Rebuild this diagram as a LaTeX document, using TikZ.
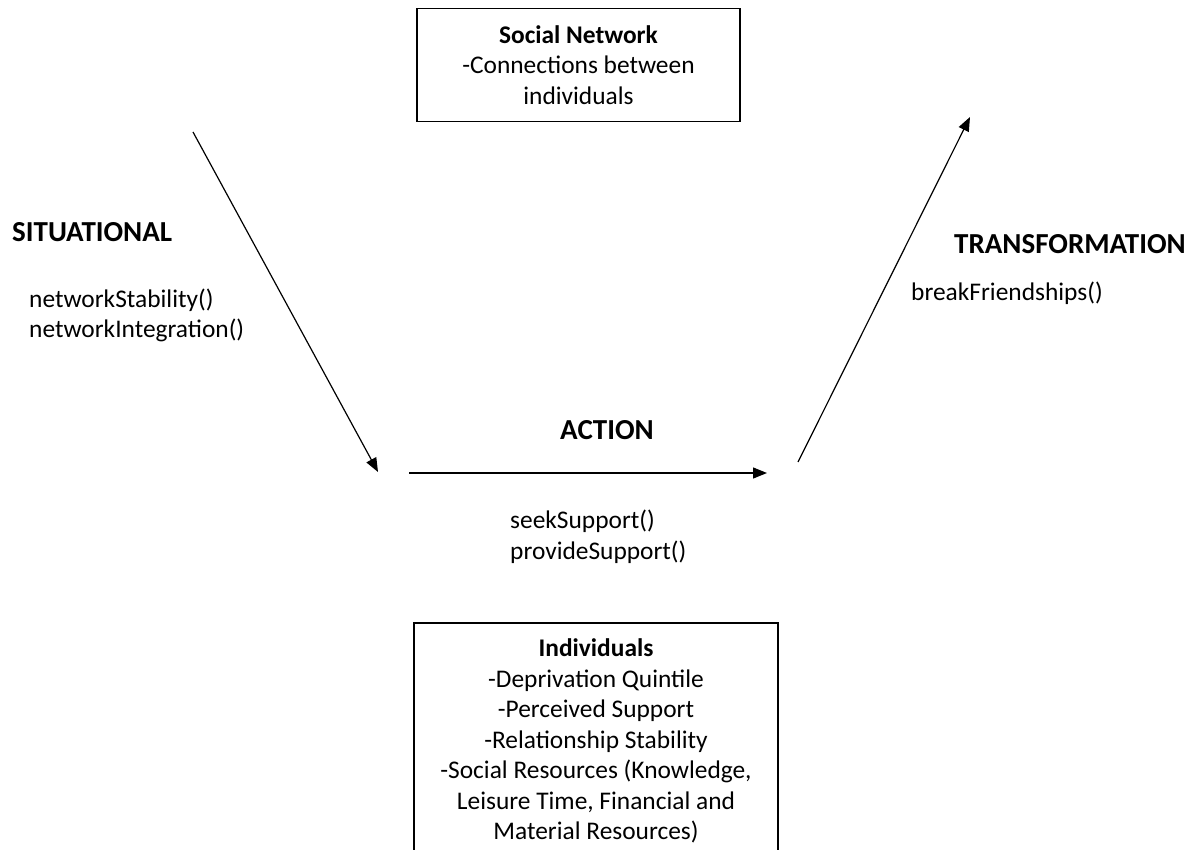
\documentclass[tikz,border=0pt]{standalone}
\usepackage{fontspec}
\setmainfont{Carlito}
\usetikzlibrary{arrows.meta}
\begin{document}
\begin{tikzpicture}[x=1pt,y=-1pt,
  reg/.style={font=\fontsize{25.4}{30.5}\selectfont, inner sep=0pt},
  lbl/.style={font=\fontsize{29}{35}\selectfont\bfseries, inner sep=0pt},
  boxnode/.style={draw, line width=1.2pt, align=center, inner sep=0pt, font=\fontsize{25.4}{30.5}\selectfont},
  conn/.style={line width=1.2pt, -{Triangle[length=14pt,width=11pt]}}
]
\useasboundingbox (0,0) rectangle (1198,850);
% boxes
\node[boxnode, minimum width=323pt, minimum height=113pt] (net) at (578.5,65)
  {\textbf{Social Network}\\-Connections between\\individuals};
\node[boxnode, minimum width=364pt, minimum height=236pt] (ind) at (596,741)
  {\textbf{Individuals}\\-Deprivation Quintile\\-Perceived Support\\-Relationship Stability\\-Social Resources (Knowledge,\\Leisure Time, Financial and\\Material Resources)};
% labels
\node[lbl, anchor=base west] (sit) at (12,242) {SITUATIONAL};
\node[reg, anchor=base west] (ns) at (29,307) {networkStability()};
\node[reg, anchor=base west] (ni) at (29,337) {networkIntegration()};
\node[lbl, anchor=base west] (tra) at (954,253) {TRANSFORMATION};
\node[reg, anchor=base west] (bf) at (911,300) {breakFriendships()};
\node[lbl, anchor=base] (act) at (607,439) {ACTION};
\node[reg, anchor=base west] (ss) at (510,528) {seekSupport()};
\node[reg, anchor=base west] (ps) at (510,559) {provideSupport()};
% arrows
\coordinate (s1) at (193,132);
\coordinate (s2) at (378,472);
\coordinate (a1) at (409,473);
\coordinate (a2) at (767,473);
\coordinate (t1) at (798,462);
\coordinate (t2) at (970,117);
\draw[conn] (s1) -- (s2);
\draw[conn] (a1) -- (a2);
\draw[conn] (t1) -- (t2);
\end{tikzpicture}
\end{document}
